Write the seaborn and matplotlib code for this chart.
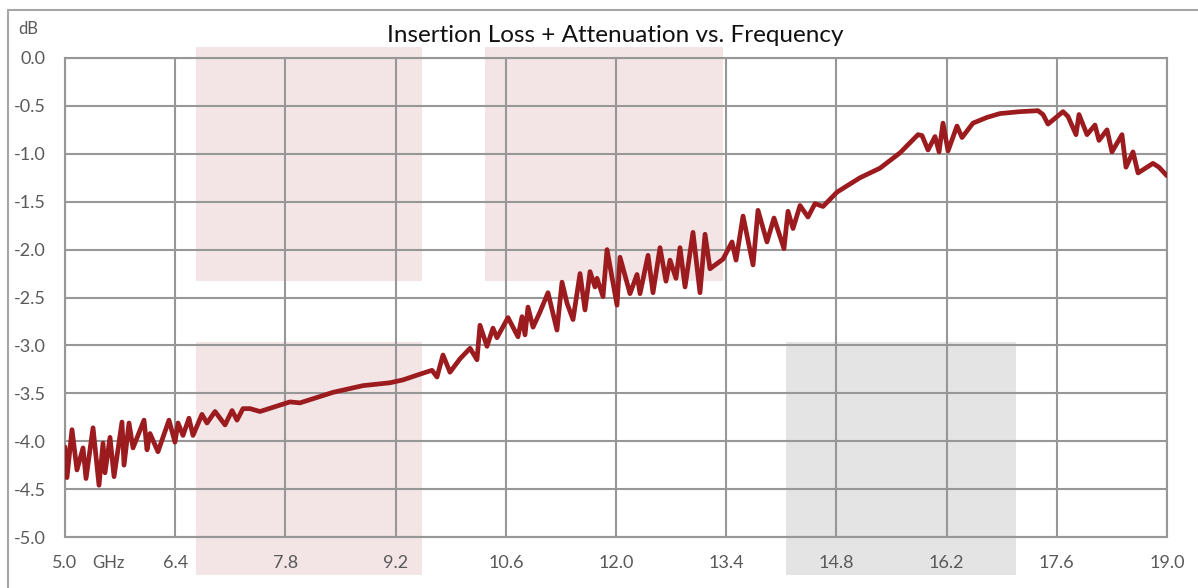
import numpy as np
import pandas as pd
import matplotlib
matplotlib.use("Agg")
import matplotlib.pyplot as plt
from matplotlib.patches import Rectangle
from matplotlib.lines import Line2D
import seaborn as sns

# ---- data ----
freq_ghz = [
    5.000, 5.025, 5.089, 5.152, 5.229, 5.267, 5.356, 5.432, 5.483, 5.508,
    5.572, 5.623, 5.724, 5.750, 5.813, 5.864, 6.004, 6.042, 6.080, 6.181,
    6.321, 6.397, 6.436, 6.499, 6.575, 6.626, 6.740, 6.804, 6.906, 7.033,
    7.122, 7.185, 7.261, 7.350, 7.477, 7.858, 7.985, 8.405, 8.786, 9.129,
    9.294, 9.510, 9.662, 9.726, 9.802, 9.891, 10.018, 10.146, 10.234, 10.272,
    10.361, 10.437, 10.488, 10.628, 10.755, 10.806, 10.844, 10.882, 10.946, 11.035,
    11.136, 11.250, 11.314, 11.378, 11.454, 11.543, 11.606, 11.670, 11.733, 11.759,
    11.835, 11.886, 12.013, 12.051, 12.178, 12.267, 12.305, 12.407, 12.470, 12.559,
    12.635, 12.686, 12.762, 12.813, 12.877, 12.978, 13.067, 13.131, 13.194, 13.359,
    13.474, 13.525, 13.614, 13.741, 13.804, 13.918, 14.007, 14.134, 14.185, 14.249,
    14.338, 14.439, 14.528, 14.630, 14.808, 15.100, 15.354, 15.608, 15.837, 15.888,
    15.964, 16.053, 16.104, 16.154, 16.218, 16.332, 16.396, 16.535, 16.713, 16.878,
    17.132, 17.361, 17.425, 17.488, 17.577, 17.679, 17.742, 17.844, 17.882, 17.984,
    18.085, 18.136, 18.238, 18.301, 18.428, 18.479, 18.568, 18.632, 18.822, 18.898,
    19.000,
]
loss_db = [
    -4.06, -4.38, -3.88, -4.30, -4.07, -4.39, -3.86, -4.46, -4.02, -4.33,
    -3.96, -4.37, -3.80, -4.25, -3.81, -4.07, -3.78, -4.09, -3.92, -4.11,
    -3.78, -4.01, -3.81, -3.94, -3.76, -3.94, -3.72, -3.81, -3.69, -3.83,
    -3.68, -3.78, -3.66, -3.66, -3.69, -3.59, -3.60, -3.49, -3.42, -3.39,
    -3.36, -3.30, -3.26, -3.33, -3.10, -3.28, -3.14, -3.03, -3.15, -2.79,
    -3.01, -2.82, -2.92, -2.71, -2.91, -2.70, -2.89, -2.60, -2.81, -2.65,
    -2.45, -2.84, -2.34, -2.56, -2.73, -2.25, -2.63, -2.23, -2.39, -2.30,
    -2.49, -2.00, -2.58, -2.08, -2.46, -2.26, -2.46, -2.06, -2.45, -1.98,
    -2.33, -2.11, -2.30, -1.98, -2.39, -1.82, -2.45, -1.84, -2.20, -2.10,
    -1.92, -2.11, -1.65, -2.16, -1.59, -1.92, -1.67, -1.99, -1.60, -1.78,
    -1.54, -1.66, -1.52, -1.55, -1.40, -1.25, -1.15, -0.99, -0.80, -0.81,
    -0.96, -0.82, -0.98, -0.68, -0.97, -0.71, -0.83, -0.68, -0.62, -0.58,
    -0.56, -0.55, -0.59, -0.69, -0.63, -0.56, -0.61, -0.80, -0.59, -0.80,
    -0.70, -0.86, -0.75, -0.98, -0.80, -1.14, -0.98, -1.20, -1.10, -1.14,
    -1.23,
]
x_ticks = [5.0, 6.4, 7.8, 9.2, 10.6, 12.0, 13.4, 14.8, 16.2, 17.6, 19.0]
y_ticks = [0.0, -0.5, -1.0, -1.5, -2.0, -2.5, -3.0, -3.5, -4.0, -4.5, -5.0]

# shaded bands: (f_start, f_end, db_low, db_high, kind)
band_f0 = [6.66, 10.34, 6.66, 14.16]
band_f1 = [9.54, 13.36, 9.54, 17.08]
band_lo = [-2.33, -2.33, -5.40, -5.40]
band_hi = [0.115, 0.115, -2.96, -2.96]
band_kind = ["pink", "pink", "pink", "gray"]

title = "Insertion Loss + Attenuation vs. Frequency"

# ---- style ----
sns.set_theme(style="white")
plt.rcParams['font.family'] = ['Lato', 'DejaVu Sans']

TICK_COLOR = "#595959"
GRID_COLOR = "#979797"
LINE_COLOR = "#9B1B1F"
band_colors = {"pink": "#F3E5E5", "gray": "#E4E4E4"}

fig = plt.figure(figsize=(11.98, 5.88), dpi=100, facecolor="white")
ax = fig.add_axes([65 / 1198, 1 - 537 / 588, (1167 - 65) / 1198, (537 - 58) / 588])
ax.set_facecolor("white")

df = pd.DataFrame({"GHz": freq_ghz, "dB": loss_db})

for f0, f1, lo, hi, k in zip(band_f0, band_f1, band_lo, band_hi, band_kind):
    ax.add_patch(Rectangle((f0, lo), f1 - f0, hi - lo, facecolor=band_colors[k],
                           edgecolor="none", zorder=0.2, clip_on=False))

sns.lineplot(data=df, x="GHz", y="dB", ax=ax, color=LINE_COLOR, linewidth=3.4,
             zorder=3, estimator=None, sort=False)
for ln in ax.lines:
    ln.set_solid_joinstyle("round")
    ln.set_solid_capstyle("round")

ax.set_xlim(5.0, 19.0)
ax.set_ylim(-5.0, 0.0)
ax.set_xticks(x_ticks)
ax.set_xticklabels([f"{v:.1f}" for v in x_ticks])
ax.set_yticks(y_ticks)
ax.set_yticklabels([f"{v:.1f}" for v in y_ticks])
ax.set_axisbelow(True)
ax.grid(True, color=GRID_COLOR, linewidth=1.5)
for s in ax.spines.values():
    s.set_color(GRID_COLOR)
    s.set_linewidth(1.5)
ax.tick_params(axis="both", length=0, colors=TICK_COLOR, labelsize=13)
ax.tick_params(axis="y", pad=14)
ax.tick_params(axis="x", pad=13)
ax.set_xlabel("")
ax.set_ylabel("")

fig.text(615 / 1198, 1 - 36 / 588, title, ha="center", va="center",
         fontsize=17.5, color="#111111")
fig.text(28 / 1198, 1 - 29 / 588, "dB", ha="center", va="center",
         fontsize=12, color=TICK_COLOR)
fig.text(108 / 1198, 1 - 563 / 588, "GHz", ha="center", va="center",
         fontsize=12, color=TICK_COLOR)

# outer chart border (top & left visible)
bx, by = 8 / 1198, 1 - 10 / 588
fig.add_artist(Line2D([bx, 1.01], [by, by], transform=fig.transFigure,
                      color="#A6A6A6", linewidth=1.5))
fig.add_artist(Line2D([bx, bx], [-0.01, by], transform=fig.transFigure,
                      color="#A6A6A6", linewidth=1.5))

fig.savefig("out.png", dpi=100, facecolor="white")
